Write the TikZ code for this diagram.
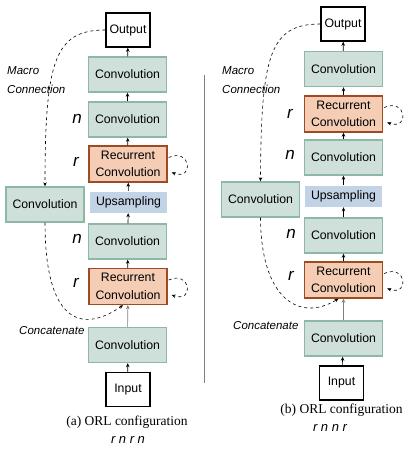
\documentclass[tikz,border=0pt]{standalone}
\usepackage{fontspec}
\setmainfont{Liberation Serif}
\setsansfont{Liberation Sans}
\usetikzlibrary{arrows.meta}
\definecolor{convfill}{HTML}{CFE0DA}
\definecolor{convline}{HTML}{8DB8A6}
\definecolor{recfill}{HTML}{F4CDB4}
\definecolor{recline}{HTML}{9E4B23}
\definecolor{upfill}{HTML}{C3D3E6}
\begin{document}
\begin{tikzpicture}[x=1pt,y=-1pt,
  conv/.style={rectangle,draw=convline,fill=convfill,line width=1.4pt,minimum width=78pt,minimum height=35pt,inner sep=0pt,align=center,font=\sffamily\fontsize{12.3}{17.5}\selectfont},
  rec/.style={conv,draw=recline,fill=recfill,minimum height=36pt},
  upbox/.style={conv,draw=none,fill=upfill,minimum width=77pt,minimum height=21pt},
  io/.style={rectangle,draw=black,line width=1.5pt,fill=white,minimum width=44pt,minimum height=34pt,inner sep=0pt,font=\sffamily\fontsize{12.3}{14}\selectfont},
  note/.style={anchor=west,inner sep=0pt,align=left,font=\sffamily\itshape\fontsize{11.5}{19}\selectfont},
  kind/.style={inner sep=0pt,font=\sffamily\itshape\fontsize{17}{17}\selectfont},
  caption/.style={inner sep=0pt,font=\fontsize{13.5}{14}\selectfont},
  order/.style={inner sep=0pt,font=\sffamily\itshape\fontsize{13}{14}\selectfont},
  flow/.style={-{Stealth[length=4pt,width=3.5pt]},line width=0.6pt},
  skip/.style={flow,dashed}]
\useasboundingbox (0,0) rectangle (404,451);

% (a) r n r n
\node[io] (outa) at (128,30) {Output};
\node[conv] (conva1) at (127.5,74.5) {Convolution};
\node[conv] (conva2) at (127.5,119.5) {Convolution};
\node[rec] (reca1) at (128,164) {Recurrent\\Convolution};
\node[upbox] (upa) at (128.5,202) {Upsampling};
\node[conv] (lefta) at (45,204.5) {Convolution};
\node[conv] (conva3) at (127.5,241.5) {Convolution};
\node[rec] (reca2) at (128,286.5) {Recurrent\\Convolution};
\node[conv] (conva4) at (127.5,345) {Convolution};
\node[io] (ina) at (128,389.5) {Input};

\node[kind] (na1) at (77,119) {n};
\node[kind] (ra1) at (76,162) {r};
\node[kind] (na2) at (77,239) {n};
\node[kind] (ra2) at (76,283) {r};
\node[note] (macroa) at (7,80) {Macro\\Connection};
\node[note] (cata) at (19,331) {Concatenate};
\node[caption] (capa) at (127,422) {(a) ORL configuration};
\node[order] (orda) at (128,440) {r n r n};

\path [flow] (ina) edge (conva4);
\path [flow,draw=gray] (conva4) edge (reca2);
\path [flow] (reca2) edge (conva3);
\path [flow] (conva3) edge (upa);
\path [flow] (upa) edge (reca1);
\path [flow] (reca1) edge (conva2);
\path [flow] (conva2) edge (conva1);
\path [flow] (conva1) edge (outa);
\draw[skip] ([xshift=1pt,yshift=6.5pt]reca1.east) .. controls +(22,-10) and +(23,8) .. ([xshift=4pt,yshift=-8.5pt]reca1.east);
\draw[skip] ([xshift=1pt,yshift=6.5pt]reca2.east) .. controls +(22,-10) and +(23,8) .. ([xshift=4pt,yshift=-8.5pt]reca2.east);
\draw[skip] (outa.west) .. controls (55,30) and (45,60) .. (lefta.north);
\draw[skip] (lefta.south) .. controls (45,320) and (80,335) .. ([xshift=-5pt]reca2.south);

% separator
\draw[gray,line width=1pt] (204,75) -- (204,383);

% (b) r n n r
\node[io] (outb) at (343,24) {Output};
\node[conv] (convb1) at (343.5,69) {Convolution};
\node[rec] (recb1) at (343.5,114) {Recurrent\\Convolution};
\node[conv] (convb2) at (343.5,157.5) {Convolution};
\node[upbox] (upb) at (343.5,196) {Upsampling};
\node[conv] (leftb) at (260.5,199.5) {Convolution};
\node[conv] (convb3) at (343.5,235.5) {Convolution};
\node[rec] (recb2) at (343.5,280) {Recurrent\\Convolution};
\node[conv] (convb4) at (343.5,338.5) {Convolution};
\node[io] (inb) at (341.5,383) {Input};

\node[kind] (rb1) at (290,114) {r};
\node[kind] (nb1) at (290,155) {n};
\node[kind] (nb2) at (291,234) {n};
\node[kind] (rb2) at (291,276) {r};
\node[note] (macrob) at (222,80) {Macro\\Connection};
\node[note] (catb) at (233,326) {Concatenate};
\node[caption] (capb) at (341.5,410) {(b) ORL configuration};
\node[order] (ordb) at (330,428) {r n n r};

\path [flow] (inb) edge (convb4);
\path [flow,draw=gray] (convb4) edge (recb2);
\path [flow] (recb2) edge (convb3);
\path [flow] (convb3) edge (upb);
\path [flow] (upb) edge (convb2);
\path [flow] (convb2) edge (recb1);
\path [flow] (recb1) edge (convb1);
\path [flow] (convb1) edge (outb);
\draw[skip] ([xshift=1pt,yshift=6.5pt]recb1.east) .. controls +(22,-10) and +(23,8) .. ([xshift=4pt,yshift=-8.5pt]recb1.east);
\draw[skip] ([xshift=1pt,yshift=6.5pt]recb2.east) .. controls +(22,-10) and +(23,8) .. ([xshift=4pt,yshift=-8.5pt]recb2.east);
\draw[skip] (outb.west) .. controls (270,24) and (261,55) .. (leftb.north);
\draw[skip] (leftb.south) .. controls (261,300) and (300,322) .. ([xshift=-5pt]recb2.south);
\end{tikzpicture}
\end{document}
